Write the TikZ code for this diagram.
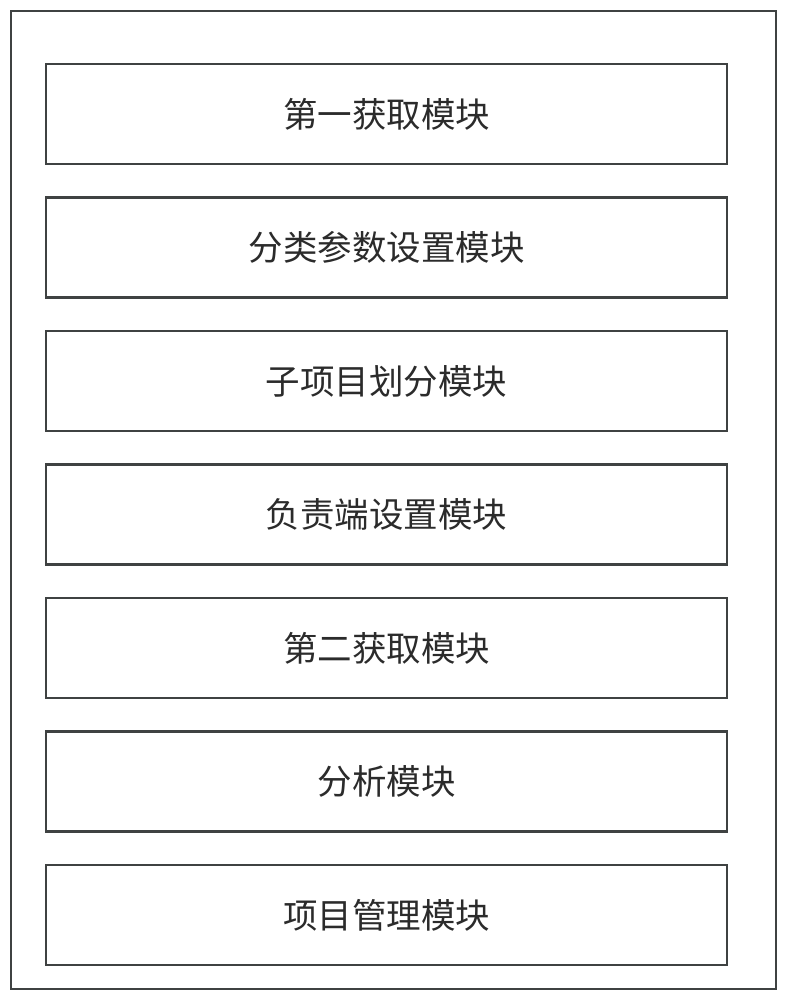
\documentclass[tikz,border=0pt]{standalone}
\usepackage{fontspec}
\newfontfamily\cjk{Noto Sans CJK SC}
\usetikzlibrary{positioning}
\definecolor{linegray}{HTML}{3F4242}
\definecolor{textgray}{HTML}{2B2B2B}
\tikzset{
	modbox/.style={draw=linegray, line width=2.8pt, minimum width=681pt, minimum height=100pt, inner sep=0pt, font=\cjk\fontsize{34.5}{34.5}\selectfont, text=textgray},
}

\begin{document}
\begin{tikzpicture}[x=1pt, y=-1pt, node distance=30.7pt]
		%%%%% START %%%%%
		
		\useasboundingbox (0, 0) rectangle (787, 1000);
		\fill[white] (0, 0) rectangle (787, 1000);
		
		\draw[draw=linegray, line width=2.8pt] (11, 11) rectangle (776, 989);
		
		\node[modbox] (get1) at (386.5, 114) {第一获取模块};
		\node[modbox, below=of get1] (classparam) {分类参数设置模块};
		\node[modbox, below=of classparam] (subitem) {子项目划分模块};
		\node[modbox, below=of subitem] (respond) {负责端设置模块};
		\node[modbox, below=of respond] (get2) {第二获取模块};
		\node[modbox, below=of get2] (analyse) {分析模块};
		\node[modbox, below=of analyse] (manage) {项目管理模块};
		
		%%%%% END %%%%%
	\end{tikzpicture}
\end{document}
